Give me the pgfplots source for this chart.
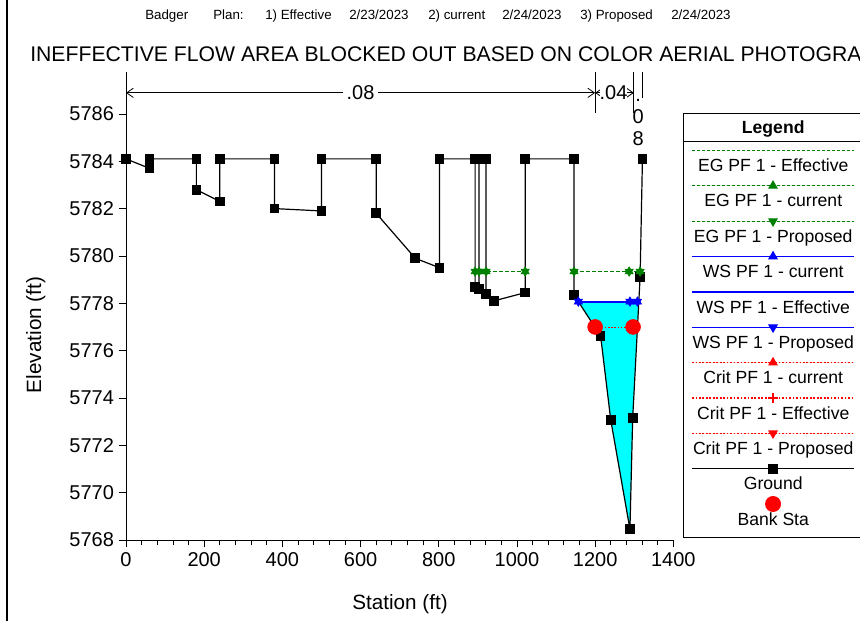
\documentclass[border=0pt]{standalone}
\usepackage{fontspec}
\setmainfont{Liberation Sans}
\setsansfont{Liberation Sans}
\usepackage{pgfplots}
\pgfplotsset{compat=1.18}
\usetikzlibrary{arrows.meta}
\definecolor{egreen}{RGB}{0,128,0}
\definecolor{wsblue}{RGB}{0,0,255}
\definecolor{crred}{RGB}{255,0,0}
\definecolor{watercyan}{RGB}{0,255,255}
\pgfplotsset{
  leg/.style={legend image code/.code={\path (0pt,0pt);
     \draw[overlay,mark repeat=2,mark phase=2,#1] plot coordinates {(0pt,12pt) (60.75pt,12pt) (121.5pt,12pt)};}},
}
\begin{document}
\begin{tikzpicture}
\useasboundingbox (0,0) rectangle (645pt,465.75pt);
\begin{scope}[x=0.75pt,y=-0.75pt,yshift=465.75pt]
  \draw[line width=2pt] (7,0) -- (7,621);
  \begin{scope}[every node/.style={inner sep=0pt, anchor=base west, font=\fontsize{10}{12}\selectfont}]
    \node at (145,19.5) {Badger};
    \node at (213,19.5) {Plan:};
    \node at (265,19.5) {1) Effective};
    \node at (349,19.5) {2/23/2023};
    \node at (428,19.5) {2) current};
    \node at (502,19.5) {2/24/2023};
    \node at (580,19.5) {3) Proposed};
    \node at (671,19.5) {2/24/2023};
  \end{scope}
  \node[inner sep=0pt, anchor=base west, font=\fontsize{15.9}{18}\selectfont] at (30,62) {INEFFECTIVE FLOW AREA BLOCKED OUT BASED ON COLOR AERIAL PHOTOGRA};
\end{scope}
\begin{axis}[
  at={(94.5pt,60.75pt)}, anchor=south west,
  scale only axis, width=410.5pt, height=351pt,
  xmin=0, xmax=1400, ymin=5768, ymax=5787.77,
  axis x line=bottom, axis y line=left,
  axis line style={-, line width=0.75pt},
  xtick={0,200,...,1400}, ytick={5768,5770,...,5786},
  minor x tick num=4, minor y tick num=1,
  tick align=outside,
  major tick length=5.5pt, minor tick length=4pt,
  tick style={black, line width=0.6pt},
  ticklabel style={font=\fontsize{15}{18}\selectfont},
  /pgf/number format/assume math mode=true,
  /pgf/number format/1000 sep={},
  xlabel={Station (ft)}, ylabel={Elevation (ft)},
  label style={font=\fontsize{15.5}{18}\selectfont},
  xlabel style={at={(axis description cs:0.5006,-0.1368)}, anchor=center},
  ylabel style={at={(axis description cs:-0.1650,0.438)}, anchor=center},
  clip=false,
  legend cell align=center,
  legend style={
    at={(axis description cs:1.0168,0.9124)}, anchor=north west,
    draw=black, line width=0.75pt, fill=white,
    inner xsep=6.375pt, inner ysep=0pt,
    row sep=0pt, column sep=0pt,
    font=\fontsize{13.2}{15}\selectfont,
    cells={anchor=center},
    nodes={inner sep=0pt, text height=17.08pt, text depth=9.43pt, minimum width=119.25pt, minimum height=0pt, anchor=center},
  },
]
% water area
\addplot[fill=watercyan, draw=none, forget plot] coordinates {(1157,5778.07) (1200,5776.97) (1214,5776.62) (1240,5773.06) (1289,5768.46) (1296,5773.14) (1311,5778.07)};
% ground
\addplot[black, line width=0.9pt, mark=square*, mark size=3.2pt, forget plot] coordinates {
(0,5784.1) (60,5783.7) (60,5784.1) (180,5784.1) (180,5782.8) (240,5782.3) (240,5784.1)
(380,5784.1) (380,5782.0) (500,5781.9) (500,5784.1) (640,5784.1) (640,5781.8) (740,5779.9)
(802,5779.5) (802,5784.1) (893,5784.1) (893,5778.7) (903,5778.6) (903,5784.1) (921,5784.1)
(921,5778.4) (941,5778.1) (1021,5778.45) (1021,5784.1) (1146,5784.1) (1146,5778.35)
(1214,5776.62) (1240,5773.06) (1289,5768.46) (1296,5773.14) (1315,5779.1) (1321,5784.1)};
% EG
\addplot[egreen, line width=1.3pt, dash pattern=on 3pt off 1.5pt, unbounded coords=jump, forget plot] coordinates {(893,5779.34) (1021,5779.34) (1080,nan) (1146,5779.34) (1315,5779.34)};
\addplot[egreen, only marks, mark=triangle*, mark size=3.6pt, forget plot] coordinates {(893,5779.34) (903,5779.34) (921,5779.34) (1021,5779.34) (1146,5779.34) (1287,5779.34) (1315,5779.34)};
\addplot[egreen, only marks, mark=triangle*, mark size=3.6pt, mark options={rotate=180}, forget plot] coordinates {(893,5779.34) (903,5779.34) (921,5779.34) (1021,5779.34) (1146,5779.34) (1287,5779.34) (1315,5779.34)};
% WS
\addplot[wsblue, line width=1.4pt, forget plot] coordinates {(1157,5778.07) (1308,5778.07)};
\addplot[wsblue, only marks, mark=triangle*, mark size=3.6pt, forget plot] coordinates {(1157,5778.07) (1289,5778.07) (1308,5778.07)};
\addplot[wsblue, only marks, mark=triangle*, mark size=3.6pt, mark options={rotate=180}, forget plot] coordinates {(1157,5778.07) (1289,5778.07) (1308,5778.07)};
% Crit
\addplot[crred, line width=1pt, dash pattern=on 1.2pt off 1.2pt, mark=triangle*, mark size=3pt, mark options={solid}, forget plot] coordinates {(1200,5776.97) (1297,5776.97)};
% Bank stations
\addplot[crred, only marks, mark=*, mark size=5.6pt, forget plot] coordinates {(1200,5777.0) (1297,5777.0)};

% n-value annotations
\draw[line width=0.6pt, {Straight Barb[length=5pt,width=7pt]}-{Straight Barb[length=5pt,width=7pt]}] (axis cs:0,5786.89) -- (axis cs:1200,5786.89);
\node[fill=white, inner xsep=3pt, inner ysep=0pt, font=\fontsize{15}{18}\selectfont] at (axis cs:600,5786.89) {.08};
\draw[line width=0.6pt, {Straight Barb[length=5pt,width=7pt]}-{Straight Barb[length=5pt,width=7pt]}] (axis cs:1200,5786.89) -- (axis cs:1299,5786.89);
\node[fill=white, inner sep=0pt, font=\fontsize{15}{18}\selectfont] at (axis cs:1247,5786.89) {.04};
\draw[line width=0.6pt] (axis cs:1200,5786.04) -- (axis cs:1200,5787.77);
\draw[line width=0.6pt] (axis cs:1299,5786.04) -- (axis cs:1299,5787.77);
\draw[line width=0.6pt] (axis cs:1321,5786.67) -- (axis cs:1321,5787.77);
\node[inner sep=0pt, anchor=base, font=\fontsize{15}{18}\selectfont] at (axis cs:1310,5786.51) {.};
\node[inner sep=0pt, anchor=base, font=\fontsize{15}{18}\selectfont] at (axis cs:1310,5785.58) {0};
\node[inner sep=0pt, anchor=base, font=\fontsize{15}{18}\selectfont] at (axis cs:1310,5784.65) {8};

% legend
\addlegendimage{legend image code/.code={\path (0pt,0pt); \draw[overlay, black, line width=0.75pt] (-6.375pt,-7.75pt) -- (125.625pt,-7.75pt);}}
\addlegendentry{\raisebox{2pt}{\textbf{Legend}}}
\addlegendimage{leg={draw=egreen, line width=0.9pt, dash pattern=on 2.25pt off 1.5pt}}
\addlegendentry{EG PF 1 - Effective}
\addlegendimage{leg={draw=egreen, fill=egreen, line width=0.9pt, dash pattern=on 2.25pt off 1.5pt, mark=triangle*, mark size=3.4pt, mark options={solid}}}
\addlegendentry{EG PF 1 - current}
\addlegendimage{leg={draw=egreen, fill=egreen, line width=0.9pt, dash pattern=on 2.25pt off 1.5pt, mark=triangle*, mark size=3.4pt, mark options={solid, rotate=180}}}
\addlegendentry{EG PF 1 - Proposed}
\addlegendimage{leg={draw=wsblue, fill=wsblue, line width=1pt, mark=triangle*, mark size=3.4pt}}
\addlegendentry{WS PF 1 - current}
\addlegendimage{leg={draw=wsblue, line width=1pt}}
\addlegendentry{WS PF 1 - Effective}
\addlegendimage{leg={draw=wsblue, fill=wsblue, line width=1pt, mark=triangle*, mark size=3.4pt, mark options={rotate=180}}}
\addlegendentry{WS PF 1 - Proposed}
\addlegendimage{leg={draw=crred, fill=crred, line width=0.9pt, dash pattern=on 1.3pt off 1.3pt, mark=triangle*, mark size=3.4pt, mark options={solid}}}
\addlegendentry{Crit PF 1 - current}
\addlegendimage{leg={draw=crred, line width=0.9pt, dash pattern=on 1.3pt off 1.3pt, mark=+, mark size=4pt, mark options={solid, draw=crred, line width=1.1pt}}}
\addlegendentry{Crit PF 1 - Effective}
\addlegendimage{leg={draw=crred, fill=crred, line width=0.9pt, dash pattern=on 1.3pt off 1.3pt, mark=triangle*, mark size=3.4pt, mark options={solid, rotate=180}}}
\addlegendentry{Crit PF 1 - Proposed}
\addlegendimage{leg={draw=black, fill=black, line width=0.9pt, mark=square*, mark size=3.2pt}}
\addlegendentry{Ground}
\addlegendimage{leg={draw=crred, fill=crred, only marks, mark=*, mark size=5.6pt}}
\addlegendentry{Bank Sta}
\end{axis}
\end{tikzpicture}
\end{document}
